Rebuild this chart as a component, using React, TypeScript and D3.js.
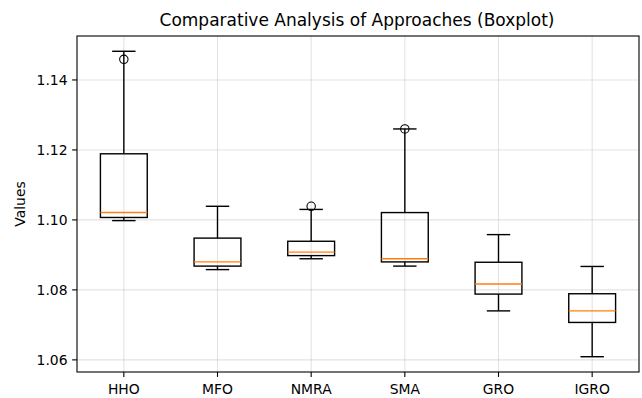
import React from "react";
import * as d3 from "d3";

const categories = ["HHO", "MFO", "NMRA", "SMA", "GRO", "IGRO"];
const whiskerLow = [1.0998, 1.0858, 1.0889, 1.0868, 1.0740, 1.0609];
const q1 = [1.1007, 1.0868, 1.0898, 1.0880, 1.0788, 1.0707];
const medians = [1.1021, 1.0880, 1.0908, 1.0889, 1.0817, 1.0740];
const q3 = [1.1189, 1.0948, 1.0939, 1.1021, 1.0879, 1.0789];
const whiskerHigh = [1.1482, 1.1039, 1.1030, 1.1260, 1.0958, 1.0867];
const outliers: number[][] = [[1.1459], [], [1.1039], [1.1260], [], []];
const yTicks = [1.06, 1.08, 1.10, 1.12, 1.14];

const W = 642, H = 398;
const L = 77, R = 639, T = 36, B = 372;
const FONT = "'DejaVu Sans', sans-serif";

export default function App() {
  const x = d3.scaleLinear().domain([0.5, categories.length + 0.5]).range([L, R]);
  const allVals = [...whiskerLow, ...whiskerHigh, ...outliers.flat()];
  const lo = d3.min(allVals)!, hi = d3.max(allVals)!;
  const m = (hi - lo) * 0.05;
  const y = d3.scaleLinear().domain([lo - m, hi + m]).range([B, T]);
  const boxW = x(1.5) - x(1);
  const capW = boxW / 2;
  const grid = "rgba(176,176,176,0.35)";
  return (
    <svg width={W} height={H} style={{ position: "absolute", left: 0, top: 0, background: "#fff" }}>
      <rect x={0} y={0} width={W} height={H} fill="#fff" />
      {yTicks.map((t) => (
        <line key={"gy" + t} x1={L} x2={R} y1={y(t)} y2={y(t)} stroke={grid} strokeWidth={1.1} />
      ))}
      {categories.map((c, i) => (
        <line key={"gx" + c} x1={x(i + 1)} x2={x(i + 1)} y1={T} y2={B} stroke={grid} strokeWidth={1.1} />
      ))}
      {categories.map((c, i) => {
        const cx = x(i + 1);
        return (
          <g key={c} fill="none" stroke="#000" strokeWidth={1.4}>
            <line x1={cx} x2={cx} y1={y(whiskerLow[i])} y2={y(q1[i])} />
            <line x1={cx} x2={cx} y1={y(q3[i])} y2={y(whiskerHigh[i])} />
            <line x1={cx - capW / 2} x2={cx + capW / 2} y1={y(whiskerLow[i])} y2={y(whiskerLow[i])} />
            <line x1={cx - capW / 2} x2={cx + capW / 2} y1={y(whiskerHigh[i])} y2={y(whiskerHigh[i])} />
            <rect x={cx - boxW / 2} y={y(q3[i])} width={boxW} height={y(q1[i]) - y(q3[i])} />
            <line x1={cx - boxW / 2} x2={cx + boxW / 2} y1={y(medians[i])} y2={y(medians[i])} stroke="#ff7f0e" strokeWidth={1.4} />
            {outliers[i].map((o, j) => (
              <circle key={j} cx={cx} cy={y(o)} r={4.2} fill="none" stroke="#000" strokeWidth={1.1} />
            ))}
          </g>
        );
      })}
      <rect x={L} y={T} width={R - L} height={B - T} fill="none" stroke="#000" strokeWidth={1.1} />
      {yTicks.map((t) => (
        <g key={"ty" + t}>
          <line x1={L - 4.9} x2={L} y1={y(t)} y2={y(t)} stroke="#000" strokeWidth={1.1} />
          <text x={L - 9.5} y={y(t)} dy="0.35em" textAnchor="end" fontFamily={FONT} fontSize={13.9} fill="#000">
            {t.toFixed(2)}
          </text>
        </g>
      ))}
      {categories.map((c, i) => (
        <g key={"tx" + c}>
          <line x1={x(i + 1)} x2={x(i + 1)} y1={B} y2={B + 4.9} stroke="#000" strokeWidth={1.1} />
          <text x={x(i + 1)} y={394} textAnchor="middle" fontFamily={FONT} fontSize={13.9} fill="#000">
            {c}
          </text>
        </g>
      ))}
      <text transform={`translate(25,${(T + B) / 2}) rotate(-90)`} textAnchor="middle" fontFamily={FONT} fontSize={13.9} fill="#000">
        Values
      </text>
      <text x={357} y={25.5} textAnchor="middle" fontFamily={FONT} fontSize={17} fill="#000">
        Comparative Analysis of Approaches (Boxplot)
      </text>
    </svg>
  );
}
